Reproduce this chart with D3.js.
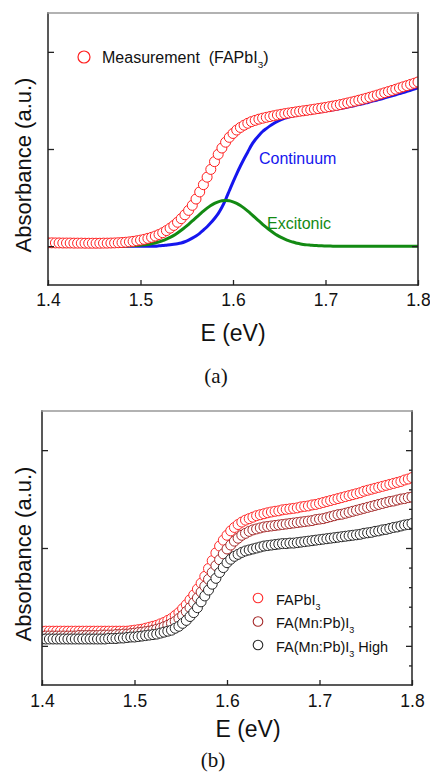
<!DOCTYPE html>
<html>
<head>
<meta charset="utf-8">
<script src="https://cdn.jsdelivr.net/npm/d3@7"></script>
<style>
body { margin: 0; background: #fff; }
svg { display: block; }
text { font-family: "Liberation Sans", Arial, sans-serif; fill: #111; }
</style>
</head>
<body>
<script>
'use strict'

// photon energy grid (eV), shared by every series
const energy = [
    1.400, 1.404, 1.408, 1.412, 1.416, 1.420, 1.424, 1.428, 1.432, 1.436,
    1.440, 1.444, 1.448, 1.452, 1.456, 1.460, 1.464, 1.468, 1.472, 1.476,
    1.480, 1.484, 1.488, 1.492, 1.496, 1.500, 1.504, 1.508, 1.512, 1.516,
    1.520, 1.524, 1.528, 1.532, 1.536, 1.540, 1.544, 1.548, 1.552, 1.556,
    1.560, 1.564, 1.568, 1.572, 1.576, 1.580, 1.584, 1.588, 1.592, 1.596,
    1.600, 1.604, 1.608, 1.612, 1.616, 1.620, 1.624, 1.628, 1.632, 1.636,
    1.640, 1.644, 1.648, 1.652, 1.656, 1.660, 1.664, 1.668, 1.672, 1.676,
    1.680, 1.684, 1.688, 1.692, 1.696, 1.700, 1.704, 1.708, 1.712, 1.716,
    1.720, 1.724, 1.728, 1.732, 1.736, 1.740, 1.744, 1.748, 1.752, 1.756,
    1.760, 1.764, 1.768, 1.772, 1.776, 1.780, 1.784, 1.788, 1.792, 1.796,
    1.800
]

// (a) measured FAPbI3 absorbance and the two fit components
const measuredA = [
    0.034, 0.034, 0.033, 0.033, 0.032, 0.032, 0.032, 0.031, 0.031, 0.031,
    0.030, 0.030, 0.030, 0.030, 0.030, 0.031, 0.031, 0.032, 0.033, 0.035,
    0.037, 0.040, 0.044, 0.049, 0.055, 0.062, 0.070, 0.080, 0.091, 0.104,
    0.120, 0.138, 0.160, 0.185, 0.213, 0.246, 0.283, 0.323, 0.368, 0.420,
    0.485, 0.558, 0.633, 0.710, 0.790, 0.870, 0.945, 1.010, 1.070, 1.120,
    1.160, 1.195, 1.222, 1.245, 1.265, 1.282, 1.295, 1.307, 1.317, 1.326,
    1.334, 1.342, 1.350, 1.357, 1.364, 1.370, 1.376, 1.382, 1.388, 1.393,
    1.398, 1.404, 1.410, 1.416, 1.422, 1.428, 1.435, 1.442, 1.449, 1.457,
    1.465, 1.474, 1.483, 1.492, 1.502, 1.512, 1.522, 1.533, 1.544, 1.555,
    1.567, 1.579, 1.591, 1.603, 1.615, 1.628, 1.640, 1.652, 1.665, 1.677,
    1.690
]
const continuumA = [
    0, 0, 0, 0, 0, 0, 0, 0, 0, 0,
    0, 0, 0, 0, 0, 0, 0, 0, 0, 0,
    0, 0, 0, 0, 0, 0, 0, 0, 0, 0,
    0.003, 0.006, 0.010, 0.014, 0.019, 0.025, 0.033, 0.045, 0.062, 0.082,
    0.105, 0.132, 0.165, 0.200, 0.240, 0.285, 0.335, 0.400, 0.480, 0.570,
    0.660, 0.745, 0.825, 0.900, 0.970, 1.040, 1.095, 1.140, 1.180, 1.210,
    1.238, 1.262, 1.283, 1.302, 1.318, 1.330, 1.340, 1.348, 1.355, 1.361,
    1.366, 1.371, 1.376, 1.381, 1.386, 1.392, 1.398, 1.404, 1.410, 1.417,
    1.424, 1.432, 1.440, 1.448, 1.457, 1.466, 1.475, 1.485, 1.495, 1.505,
    1.515, 1.526, 1.537, 1.548, 1.559, 1.570, 1.581, 1.593, 1.605, 1.617,
    1.628
]
const excitonicA = [
    0, 0, 0, 0, 0, 0, 0, 0, 0, 0,
    0, 0, 0, 0, 0, 0, 0, 0, 0, 0,
    0.001, 0.002, 0.003, 0.005, 0.007, 0.010, 0.013, 0.018, 0.025, 0.033,
    0.044, 0.056, 0.072, 0.090, 0.111, 0.136, 0.163, 0.193, 0.225, 0.259,
    0.294, 0.328, 0.361, 0.391, 0.418, 0.440, 0.456, 0.467, 0.470, 0.467,
    0.456, 0.440, 0.418, 0.391, 0.361, 0.328, 0.294, 0.259, 0.225, 0.193,
    0.163, 0.136, 0.111, 0.090, 0.072, 0.056, 0.044, 0.033, 0.025, 0.018,
    0.013, 0.010, 0.007, 0.005, 0.003, 0.002, 0.001, 0, 0, 0,
    0, 0, 0, 0, 0, 0, 0, 0, 0, 0,
    0, 0, 0, 0, 0, 0, 0, 0, 0, 0,
    0
]

// (b) three samples
const fapbi3B = [
    0.15, 0.15, 0.15, 0.15, 0.15, 0.15, 0.15, 0.15, 0.15, 0.15,
    0.15, 0.15, 0.15, 0.15, 0.15, 0.15, 0.15, 0.15, 0.15, 0.15,
    0.15, 0.15, 0.15, 0.15, 0.155, 0.16, 0.165, 0.17, 0.18, 0.19,
    0.20, 0.21, 0.225, 0.24, 0.26, 0.28, 0.31, 0.34, 0.38, 0.42,
    0.47, 0.52, 0.58, 0.64, 0.71, 0.79, 0.87, 0.95, 1.02, 1.08,
    1.13, 1.175, 1.21, 1.24, 1.265, 1.285, 1.30, 1.315, 1.33, 1.34,
    1.35, 1.36, 1.368, 1.375, 1.38, 1.39, 1.395, 1.40, 1.405, 1.41,
    1.42, 1.425, 1.43, 1.44, 1.445, 1.455, 1.465, 1.475, 1.485, 1.495,
    1.505, 1.515, 1.525, 1.535, 1.545, 1.555, 1.565, 1.58, 1.59, 1.60,
    1.61, 1.62, 1.63, 1.64, 1.65, 1.66, 1.67, 1.68, 1.695, 1.705,
    1.72
]
const mnB = [
    0.10, 0.10, 0.10, 0.10, 0.10, 0.10, 0.10, 0.10, 0.10, 0.10,
    0.105, 0.105, 0.105, 0.105, 0.105, 0.105, 0.11, 0.11, 0.11, 0.11,
    0.115, 0.115, 0.12, 0.12, 0.125, 0.13, 0.135, 0.14, 0.145, 0.15,
    0.16, 0.17, 0.18, 0.195, 0.21, 0.23, 0.25, 0.28, 0.31, 0.35,
    0.39, 0.44, 0.49, 0.55, 0.61, 0.68, 0.75, 0.82, 0.88, 0.94,
    0.99, 1.03, 1.07, 1.10, 1.13, 1.15, 1.17, 1.185, 1.195, 1.205,
    1.215, 1.22, 1.225, 1.23, 1.235, 1.24, 1.245, 1.25, 1.255, 1.26,
    1.265, 1.27, 1.275, 1.28, 1.29, 1.295, 1.30, 1.31, 1.32, 1.33,
    1.34, 1.345, 1.355, 1.365, 1.375, 1.385, 1.395, 1.405, 1.415, 1.425,
    1.435, 1.445, 1.455, 1.465, 1.475, 1.48, 1.49, 1.50, 1.505, 1.515,
    1.52
]
const mnHighB = [
    0.07, 0.07, 0.07, 0.07, 0.07, 0.07, 0.07, 0.07, 0.07, 0.07,
    0.07, 0.07, 0.07, 0.07, 0.07, 0.07, 0.07, 0.07, 0.075, 0.075,
    0.075, 0.08, 0.08, 0.085, 0.09, 0.09, 0.095, 0.10, 0.105, 0.11,
    0.115, 0.12, 0.13, 0.14, 0.15, 0.16, 0.18, 0.20, 0.23, 0.26,
    0.30, 0.34, 0.39, 0.45, 0.51, 0.57, 0.63, 0.69, 0.75, 0.80,
    0.85, 0.885, 0.915, 0.935, 0.955, 0.97, 0.98, 0.99, 1.00, 1.01,
    1.02, 1.025, 1.03, 1.035, 1.04, 1.045, 1.045, 1.05, 1.05, 1.055,
    1.06, 1.065, 1.07, 1.075, 1.08, 1.085, 1.09, 1.095, 1.10, 1.105,
    1.11, 1.115, 1.12, 1.125, 1.13, 1.135, 1.14, 1.15, 1.155, 1.16,
    1.17, 1.175, 1.185, 1.19, 1.20, 1.21, 1.215, 1.225, 1.235, 1.24,
    1.25
]

// ticks
const xTicks = [1.4, 1.5, 1.6, 1.7, 1.8]
const yMajor = [0, 1, 2]
const yMinor = [-0.2, 0.2, 0.4, 0.6, 0.8, 1.2, 1.4, 1.6, 1.8, 2.2]

const svg = d3.select("body")
    .append("svg")
    .attr("width", 430)
    .attr("height", 779)

// Builds clip, plot group, axes and frame for one panel, returns the scales
function drawPanel(f, id) {
    const x = d3.scaleLinear().domain([1.4, 1.8]).range([f.left, f.right])
    const y = d3.scaleLinear().domain([-0.4, 2.4]).range([f.bottom, f.top])

    svg.append("defs").append("clipPath").attr("id", id)
        .append("rect")
        .attr("x", f.left).attr("y", f.top)
        .attr("width", f.right - f.left).attr("height", f.bottom - f.top)

    // data goes under the axes
    const plot = svg.append("g").attr("clip-path", `url(#${id})`)
    const g = svg.append("g")

    const xAxis = g.append("g")
        .attr("transform", `translate(0,${f.bottom})`)
        .call(d3.axisBottom(x).tickValues(xTicks).tickSizeInner(-5).tickSizeOuter(0)
            .tickPadding(f.pad).tickFormat(d3.format(".1f")))
    xAxis.select(".domain").remove()
    xAxis.selectAll("text").attr("font-size", 17.5).attr("fill", "#111")

    const left = g.append("g")
        .attr("transform", `translate(${f.left},0)`)
        .call(d3.axisLeft(y).tickValues(yMajor).tickSizeInner(-6).tickSizeOuter(0).tickFormat(""))
    const right = g.append("g")
        .attr("transform", `translate(${f.right},0)`)
        .call(d3.axisRight(y).tickValues(yMajor).tickSizeInner(-6).tickSizeOuter(0).tickFormat(""))
    left.select(".domain").remove()
    right.select(".domain").remove()
    if (f.minor) {
        const minor = g.append("g")
            .attr("transform", `translate(${f.right},0)`)
            .call(d3.axisRight(y).tickValues(yMinor).tickSizeInner(-3).tickSizeOuter(0).tickFormat(""))
        minor.select(".domain").remove()
    }
    g.selectAll(".tick line").attr("stroke", "#222").attr("stroke-width", 1.3)

    // frame, top edge is lighter in the original
    const edges = [
        [f.left, f.bottom, f.right, f.bottom, "#222"],
        [f.left, f.top, f.left, f.bottom, "#222"],
        [f.right, f.top, f.right, f.bottom, "#222"],
        [f.left, f.top, f.right, f.top, "#999"]
    ]
    edges.forEach(e => {
        g.append("line")
            .attr("x1", e[0]).attr("y1", e[1]).attr("x2", e[2]).attr("y2", e[3])
            .attr("stroke", e[4]).attr("stroke-width", 1.5)
            .attr("stroke-linecap", "square")
    })

    return { x, y, plot }
}

function drawLine(p, values, color) {
    const line = d3.line()
        .x(d => p.x(d[0]))
        .y(d => p.y(d[1]))
        .curve(d3.curveMonotoneX)
    p.plot.append("path")
        .datum(d3.zip(energy, values))
        .attr("d", line)
        .attr("fill", "none")
        .attr("stroke", color)
        .attr("stroke-width", 3)
}

function drawMarkers(p, values, color) {
    p.plot.append("g")
        .selectAll("circle")
        .data(d3.zip(energy, values))
        .enter()
        .append("circle")
        .attr("cx", d => p.x(d[0]))
        .attr("cy", d => p.y(d[1]))
        .attr("r", 5)
        .attr("fill", "#fff")
        .attr("stroke", color)
        .attr("stroke-width", 1)
}

// text with a subscript 3 in it: parts = [before, after]
function subText(x, y, size, parts, color) {
    const t = svg.append("text")
        .attr("x", x).attr("y", y)
        .attr("font-size", size)
        .style("white-space", "pre")
        .style("fill", color || "#111")
    t.append("tspan").text(parts[0])
    t.append("tspan").attr("dy", 5).attr("font-size", size * 0.62).text("3")
    t.append("tspan").attr("dy", -5).text(parts[1])
}

function axisTitles(xc, yb, yc, letter, lx, ly) {
    svg.append("text")
        .attr("x", xc).attr("y", yb)
        .attr("text-anchor", "middle")
        .attr("font-size", 23)
        .text("E (eV)")
    svg.append("text")
        .attr("transform", `translate(31,${yc}) rotate(-90)`)
        .attr("text-anchor", "middle")
        .attr("font-size", 22)
        .text("Absorbance (a.u.)")
    svg.append("text")
        .attr("x", lx).attr("y", ly)
        .attr("text-anchor", "middle")
        .attr("font-size", 21)
        .style("font-family", "'Liberation Serif', 'DejaVu Serif', serif")
        .text(letter)
}

//////////////////////////////// panel (a) ////////////////////////////////
const pa = drawPanel({ left: 48, right: 418, top: 13, bottom: 285, pad: 9, minor: false }, "clipA")
drawLine(pa, continuumA, "#1616ee")
drawLine(pa, excitonicA, "#138a13")
drawMarkers(pa, measuredA, "#ff1f1f")

svg.append("circle").attr("cx", 84).attr("cy", 57).attr("r", 6)
    .attr("fill", "#fff").attr("stroke", "#ff1f1f").attr("stroke-width", 1.2)
subText(102, 63, 16, ["Measurement  (FAPbI", ")"])
svg.append("text").attr("x", 259).attr("y", 164).attr("font-size", 16)
    .style("fill", "#1616ee").text("Continuum")
svg.append("text").attr("x", 267).attr("y", 229).attr("font-size", 16)
    .style("fill", "#138a13").text("Excitonic")
axisTitles(233, 341, 165, "(a)", 216, 383)

//////////////////////////////// panel (b) ////////////////////////////////
const pb = drawPanel({ left: 42, right: 412, top: 411, bottom: 685, pad: 10, minor: true }, "clipB")
const seriesB = [
    { values: fapbi3B, color: "#ff2a2a", label: ["FAPbI", ""] },
    { values: mnB, color: "#a52a2a", label: ["FA(Mn:Pb)I", ""] },
    { values: mnHighB, color: "#262626", label: ["FA(Mn:Pb)I", " High"] }
]
seriesB.forEach(s => drawMarkers(pb, s.values, s.color))
seriesB.forEach((s, i) => {
    const cy = 598 + i * 23.5
    svg.append("circle").attr("cx", 258).attr("cy", cy).attr("r", 4.8)
        .attr("fill", "#fff").attr("stroke", s.color).attr("stroke-width", 1.1)
    subText(276, cy + 6.5, 14.5, s.label)
})
axisTitles(248, 737, 554, "(b)", 213, 767)
</script>
</body>
</html>
